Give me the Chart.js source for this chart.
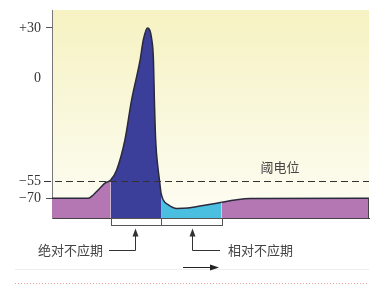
<!DOCTYPE html>
<html>
<head>
<meta charset="utf-8">
<script src="https://cdn.jsdelivr.net/npm/chart.js@4"></script>
<style>
    html, body { margin: 0; padding: 0; background: #ffffff; }
    #wrap { position: relative; width: 378px; height: 293px; }
</style>
</head>
<body>
<div id="wrap"><canvas id="ap"></canvas></div>
<script>
// action potential, time in arbitrary ms, membrane potential in mV
const timeMs = [0, 1.14, 1.30, 1.51, 1.67, 1.85, 2.04, 2.30, 2.51, 2.78, 2.88, 3.01, 3.15, 3.20,
    3.23, 3.27, 3.35, 3.39, 3.44, 3.51, 3.66, 3.93, 4.29, 4.67, 5.35, 5.77, 6.25, 10];
const membraneMv = [-70, -70, -67.1, -61.3, -56.9, -54.5, -49.1, -33.1, -11.8, 10.8, 22.8, 30, 22.8, 10.8,
    -11.8, -33.1, -49.1, -54.5, -65.4, -71.5, -75.4, -78.8, -78.4, -76.7, -73.5, -71.5, -70.2, -70];

const yTickValues = [30, 0, -55, -70];
const markedTicks = [30, -70];
const thresholdMv = -55;
const thresholdLabel = '阈电位';

const absRefractory = [1.85, 3.44];
const relRefractory = [3.44, 5.35];
const periodLabels = ['绝对不应期', '相对不应期'];

// the drawing is schematic: the mV axis is not linear, these are its breakpoints
const axisBreaks = [-87, -70, -55, 0, 30, 41];
const axisBreakPos = [0, 0.0947, 0.1779, 0.6731, 0.9135, 1];

function toDecimal(v) {
    for (let i = 1; i < axisBreaks.length; i++) {
        if (v <= axisBreaks[i] || i === axisBreaks.length - 1) {
            const f = (v - axisBreaks[i - 1]) / (axisBreaks[i] - axisBreaks[i - 1]);
            return axisBreakPos[i - 1] + f * (axisBreakPos[i] - axisBreakPos[i - 1]);
        }
    }
}

function fromDecimal(d) {
    for (let i = 1; i < axisBreakPos.length; i++) {
        if (d <= axisBreakPos[i] || i === axisBreakPos.length - 1) {
            const f = (d - axisBreakPos[i - 1]) / (axisBreakPos[i] - axisBreakPos[i - 1]);
            return axisBreaks[i - 1] + f * (axisBreaks[i] - axisBreaks[i - 1]);
        }
    }
}

class SchematicScale extends Chart.LinearScale {
    getPixelForValue(value) {
        if (value === null || value === undefined || isNaN(value)) return NaN;
        return this.getPixelForDecimal(toDecimal(value));
    }
    getValueForPixel(pixel) {
        return fromDecimal(this.getDecimalForPixel(pixel));
    }
}
SchematicScale.id = 'schematic';
SchematicScale.defaults = Chart.LinearScale.defaults;
Chart.register(SchematicScale);

const PURPLE = '#b477b3';
const DARK_BLUE = '#3b3f99';
const CYAN = '#4bbfe0';

function phaseColor(t) {
    if (t >= absRefractory[0] - 1e-6 && t < absRefractory[1] - 1e-6) return DARK_BLUE;
    if (t >= relRefractory[0] - 1e-6 && t < relRefractory[1] - 1e-6) return CYAN;
    return PURPLE;
}

function arrowHead(ctx, x, y, dir) {
    ctx.beginPath();
    if (dir === 'up') {
        ctx.moveTo(x, y);
        ctx.lineTo(x - 3, y + 8);
        ctx.lineTo(x + 3, y + 8);
    } else {
        ctx.moveTo(x, y);
        ctx.lineTo(x - 9, y - 3);
        ctx.lineTo(x - 9, y + 3);
    }
    ctx.closePath();
    ctx.fill();
}

const backdrop = {
    id: 'backdrop',
    beforeDraw(chart) {
        const { ctx, chartArea: a } = chart;
        const g = ctx.createLinearGradient(0, a.top, 0, a.bottom);
        g.addColorStop(0, '#f6f2c2');
        g.addColorStop(1, '#fdfdf4');
        ctx.save();
        ctx.fillStyle = g;
        ctx.fillRect(a.left, a.top, a.right - a.left, a.bottom - a.top);
        ctx.restore();
    }
};

const notes = {
    id: 'notes',
    afterDraw(chart) {
        const { ctx, chartArea: a } = chart;
        const x = chart.scales.x;
        const y = chart.scales.y;
        ctx.save();

        // threshold
        const yt = Math.round(y.getPixelForValue(thresholdMv)) + 0.5;
        ctx.strokeStyle = '#333';
        ctx.lineWidth = 1;
        ctx.setLineDash([7, 4]);
        ctx.beginPath();
        ctx.moveTo(44, yt);
        ctx.lineTo(a.right, yt);
        ctx.stroke();
        ctx.setLineDash([]);

        ctx.fillStyle = '#444';
        ctx.font = '13px "Noto Sans CJK SC"';
        ctx.textAlign = 'center';
        ctx.textBaseline = 'middle';
        ctx.fillText(thresholdLabel, 280, yt - 14);

        // right edge of the trace
        const xEnd = Math.round(x.getPixelForValue(timeMs[timeMs.length - 1])) - 0.5;
        ctx.strokeStyle = '#444';
        ctx.beginPath();
        ctx.moveTo(xEnd, y.getPixelForValue(membraneMv[membraneMv.length - 1]));
        ctx.lineTo(xEnd, a.bottom);
        ctx.stroke();

        // refractory brackets
        const x0 = Math.round(x.getPixelForValue(absRefractory[0])) + 0.5;
        const x1 = Math.round(x.getPixelForValue(absRefractory[1])) + 0.5;
        const x2 = Math.round(x.getPixelForValue(relRefractory[1])) + 0.5;
        const top = a.bottom + 0.5;
        ctx.fillStyle = '#ffffff';
        ctx.fillRect(x0, top, x2 - x0, 7);
        ctx.strokeStyle = '#555';
        ctx.strokeRect(x0, top, x2 - x0, 7);
        ctx.beginPath();
        ctx.moveTo(x1, top);
        ctx.lineTo(x1, top + 7);
        ctx.stroke();

        // arrows to labels
        const yl = 250.5;
        const m0 = Math.round((x0 + x1) / 2) - 1.5;
        const m1 = Math.round((x1 + x2) / 2) + 0.5;
        ctx.strokeStyle = '#333';
        ctx.fillStyle = '#333';
        ctx.beginPath();
        ctx.moveTo(109, yl);
        ctx.lineTo(m0, yl);
        ctx.lineTo(m0, top + 14);
        ctx.moveTo(220, yl);
        ctx.lineTo(m1, yl);
        ctx.lineTo(m1, top + 14);
        ctx.stroke();
        arrowHead(ctx, m0, top + 10, 'up');
        arrowHead(ctx, m1, top + 10, 'up');

        ctx.fillStyle = '#444';
        ctx.font = '13px "Noto Sans CJK SC"';
        ctx.textBaseline = 'middle';
        ctx.textAlign = 'right';
        ctx.fillText(periodLabels[0], 103, yl);
        ctx.textAlign = 'left';
        ctx.fillText(periodLabels[1], 228, yl);

        // faint rule, time arrow, dotted rule
        ctx.strokeStyle = '#eeeeee';
        ctx.beginPath();
        ctx.moveTo(15, 269.5);
        ctx.lineTo(a.right, 269.5);
        ctx.stroke();

        ctx.strokeStyle = '#222';
        ctx.fillStyle = '#222';
        ctx.beginPath();
        ctx.moveTo(183, 267.5);
        ctx.lineTo(212, 267.5);
        ctx.stroke();
        arrowHead(ctx, 219, 267.5, 'right');

        ctx.strokeStyle = '#eaa18e';
        ctx.setLineDash([1, 2]);
        ctx.beginPath();
        ctx.moveTo(15, 283.5);
        ctx.lineTo(367, 283.5);
        ctx.stroke();
        ctx.restore();
    }
};

function drawActionPotential() {
    const ctx = document.getElementById('ap').getContext('2d');
    const points = timeMs.map((t, i) => ({ x: t, y: membraneMv[i] }));

    new Chart(ctx, {
        type: 'line',
        data: {
            datasets: [
                {
                    label: 'Membrane potential',
                    data: points,
                    borderColor: '#2a2a3c',
                    borderWidth: 1.5,
                    pointRadius: 0,
                    cubicInterpolationMode: 'monotone',
                    fill: 'start',
                    backgroundColor: PURPLE,
                    segment: {
                        backgroundColor: c => phaseColor(c.p0.parsed.x),
                    },
                },
            ],
        },
        options: {
            responsive: true,
            maintainAspectRatio: false,
            animation: false,
            layout: { padding: { top: 10, right: 9, bottom: 75, left: 0 } },
            plugins: {
                legend: { display: false },
                tooltip: { enabled: false },
            },
            scales: {
                x: {
                    type: 'linear',
                    min: 0,
                    max: 10,
                    z: 1,
                    ticks: { display: false },
                    grid: { display: false, drawTicks: false },
                    border: { color: '#444', width: 1 },
                    afterFit: s => { s.height = 0; },
                },
                y: {
                    type: 'schematic',
                    min: axisBreaks[0],
                    max: axisBreaks[axisBreaks.length - 1],
                    z: 1,
                    afterBuildTicks: s => { s.ticks = yTickValues.map(v => ({ value: v })); },
                    afterFit: s => { s.width = 52; s.paddingTop = 0; s.paddingBottom = 0; },
                    ticks: {
                        padding: 5,
                        color: '#333',
                        font: { family: 'Liberation Serif', size: 14 },
                        callback: v => v > 0 ? '+' + v : (v < 0 ? '\u2212' + (-v) : '0'),
                    },
                    grid: {
                        drawOnChartArea: false,
                        tickLength: 6,
                        color: c => (c.tick && markedTicks.includes(c.tick.value)) ? '#555' : 'rgba(0,0,0,0)',
                    },
                    border: { color: '#777', width: 1 },
                },
            },
        },
        plugins: [backdrop, notes],
    });
}

document.addEventListener('DOMContentLoaded', drawActionPotential);
</script>
</body>
</html>
